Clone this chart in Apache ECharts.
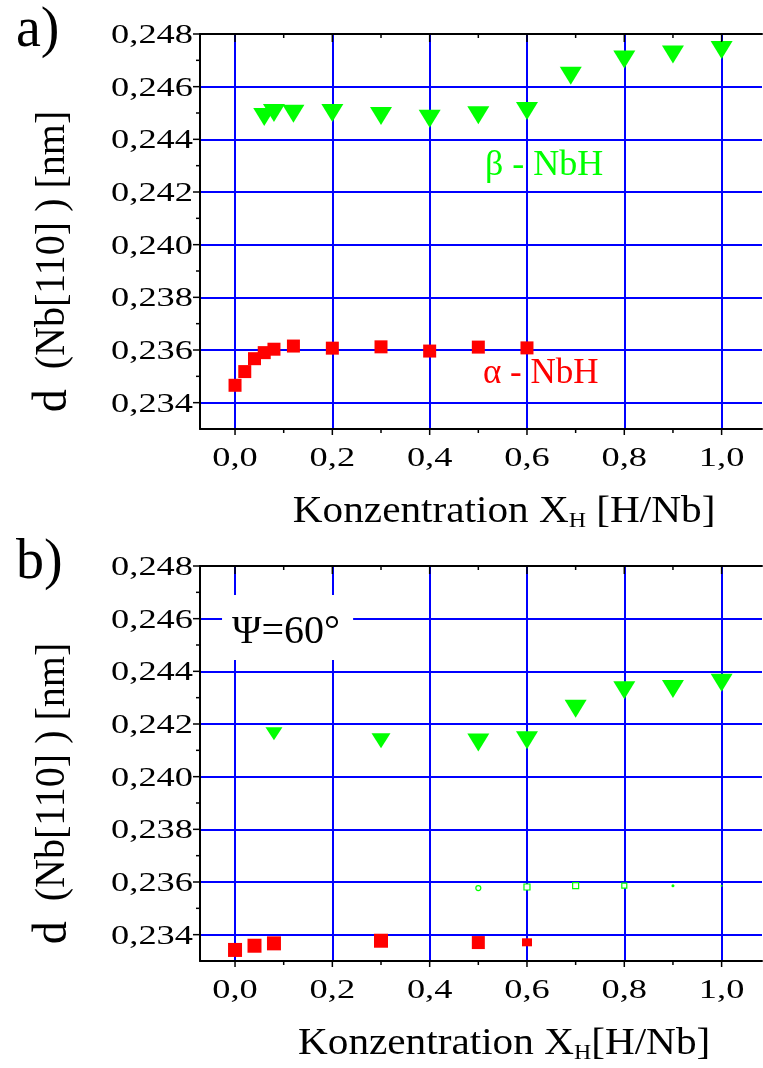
<!DOCTYPE html>
<html>
<head>
<meta charset="utf-8">
<script src="https://cdn.jsdelivr.net/npm/echarts@6/dist/echarts.min.js"></script>
<style>
  html, body { margin: 0; padding: 0; background: #fff; }
  #chart { width: 763px; height: 1068px; }
</style>
</head>
<body>
<div id="chart"></div>
<script>
// Lattice spacing d(Nb[110]) of alpha- and beta-NbH versus hydrogen concentration

// ---- tick values and labels ----
const xTickValues = [0.0, 0.2, 0.4, 0.6, 0.8, 1.0];
const xTickLabels = ['0,0', '0,2', '0,4', '0,6', '0,8', '1,0'];
const xMinorValues = [0.1, 0.3, 0.5, 0.7, 0.9];
const yTickValues = [0.234, 0.236, 0.238, 0.240, 0.242, 0.244, 0.246, 0.248];
const yTickLabels = ['0,234', '0,236', '0,238', '0,240', '0,242', '0,244', '0,246', '0,248'];
const yMinorValues = [0.235, 0.237, 0.239, 0.241, 0.243, 0.245, 0.247];

// ---- panel a) ----
const aBetaX = [0.06, 0.08, 0.12, 0.2, 0.3, 0.4, 0.5, 0.6, 0.69, 0.8, 0.9, 1.0];
const aBetaD = [0.24485, 0.24500, 0.24497, 0.24500, 0.24489, 0.24478, 0.24491, 0.24508, 0.24641, 0.24703, 0.24722, 0.24739];
const aAlphaX = [0.0, 0.02, 0.04, 0.06, 0.08, 0.12, 0.2, 0.3, 0.4, 0.5, 0.6];
const aAlphaD = [0.23466, 0.23518, 0.23567, 0.23590, 0.23603, 0.23615, 0.23607, 0.23612, 0.23596, 0.23611, 0.23608];

// ---- panel b) (Psi = 60 deg) ----
const bBetaX = [0.08, 0.3, 0.5, 0.6, 0.7, 0.8, 0.9, 1.0];
const bBetaD = [0.24163, 0.24136, 0.24130, 0.24138, 0.24258, 0.24328, 0.24333, 0.24357];
const bWeakX = [0.5, 0.6, 0.7, 0.8, 0.9, 1.0];
const bWeakD = [0.23577, 0.23581, 0.23586, 0.23586, 0.23586, 0.23586];
const bAlphaX = [0.0, 0.04, 0.08, 0.3, 0.5, 0.6];
const bAlphaD = [0.23342, 0.23358, 0.23367, 0.23377, 0.23370, 0.23371];

// ---- styling ----
const X_MIN = -0.072, X_MAX = 1.083, Y_MIN = 0.233, Y_MAX = 0.248;
const BLUE = '#0000ff', GREEN = '#00ff00', RED = '#ff0000', INK = '#000000';
const SERIF = '"Liberation Serif", "Times New Roman", serif';
const zip = (xs, ys) => xs.map((x, i) => [x, ys[i]]);

// marker sizes of panel b: weaker reflections drawn smaller
const bBetaSize = i => (i === 0 ? [17, 13] : i === 1 ? [19, 15] : [22, 18]);
const bAlphaSize = i => (i === 5 ? [10, 8] : i === 4 ? 13 : 14);
const bWeakSize = [5, 6, 6, 5, 3, 2];
const bWeakShape = ['circle', 'rect', 'rect', 'rect', 'circle', 'circle'];
const bWeakHollow = [true, true, true, true, false, false];

function gridLines() {
  return {
    silent: true, z: 1, animation: false, precision: 6,
    symbol: ['none', 'none'],
    label: { show: false },
    emphasis: { disabled: true },
    lineStyle: { color: BLUE, width: 2, type: 'solid', opacity: 1 },
    data: [
      ...xTickValues.map(v => ({ xAxis: v })),
      ...yTickValues.filter(v => v < Y_MAX).map(v => ({ yAxis: v }))
    ]
  };
}

const axisBase = {
  type: 'value', z: 3,
  axisLine: { show: true, onZero: false, lineStyle: { color: INK, width: 2 } },
  axisTick: { show: false },
  axisLabel: { show: false },
  splitLine: { show: false }
};

const xAxes = [], yAxes = [];
[0, 1].forEach(g => {
  xAxes.push(Object.assign({}, axisBase, { gridIndex: g, min: X_MIN, max: X_MAX, position: 'bottom' }));
  xAxes.push(Object.assign({}, axisBase, { gridIndex: g, min: X_MIN, max: X_MAX, position: 'top' }));
  yAxes.push(Object.assign({}, axisBase, { gridIndex: g, min: Y_MIN, max: Y_MAX, position: 'left' }));
});

const solid = color => ({ color, opacity: 1 });

const option = {
  animation: false,
  backgroundColor: '#ffffff',
  grid: [
    { left: 200, top: 34, width: 562, height: 395 },
    { left: 200, top: 566, width: 562, height: 395 }
  ],
  xAxis: xAxes,
  yAxis: yAxes,
  series: [
    {
      name: 'alpha-NbH a', type: 'scatter', xAxisIndex: 0, yAxisIndex: 0,
      data: zip(aAlphaX, aAlphaD), symbol: 'rect', symbolSize: 13,
      itemStyle: solid(RED), z: 3, markLine: gridLines()
    },
    {
      name: 'beta-NbH a', type: 'scatter', xAxisIndex: 0, yAxisIndex: 0,
      data: zip(aBetaX, aBetaD), symbol: 'triangle', symbolRotate: 180, symbolSize: [22, 18],
      itemStyle: solid(GREEN), z: 3
    },
    {
      name: 'alpha-NbH b', type: 'scatter', xAxisIndex: 2, yAxisIndex: 1,
      data: zip(bAlphaX, bAlphaD), symbol: 'rect',
      symbolSize: (v, p) => bAlphaSize(p.dataIndex),
      itemStyle: solid(RED), z: 3, markLine: gridLines()
    },
    {
      name: 'beta-NbH b', type: 'scatter', xAxisIndex: 2, yAxisIndex: 1,
      data: zip(bBetaX, bBetaD), symbol: 'triangle', symbolRotate: 180,
      symbolSize: (v, p) => bBetaSize(p.dataIndex),
      itemStyle: solid(GREEN), z: 3
    },
    {
      name: 'weak b', type: 'scatter', xAxisIndex: 2, yAxisIndex: 1,
      data: zip(bWeakX, bWeakD).map((d, i) => ({
        value: d,
        symbol: bWeakShape[i],
        symbolSize: bWeakSize[i],
        itemStyle: bWeakHollow[i]
          ? { color: '#ffffff', borderColor: GREEN, borderWidth: 1.2, opacity: 1 }
          : solid(GREEN)
      })),
      z: 3
    }
  ]
};

const chart = echarts.init(document.getElementById('chart'), null, { renderer: 'canvas' });
chart.setOption(option);

// ---- ticks, tick labels, titles and annotations ----
const toPx = (g, x, y) => chart.convertToPixel({ gridIndex: g }, [x, y]);

function tick(x1, y1, x2, y2) {
  return { type: 'line', silent: true, z: 10,
    shape: { x1, y1, x2, y2 }, style: { stroke: INK, lineWidth: 1.5 } };
}
function label(text, x, y, align, opts) {
  const o = opts || {};
  return {
    type: 'text', silent: true, z: o.z || 10,
    x, y, scaleX: o.scaleX || 1, scaleY: o.scaleY || 1, rotation: o.rotation || 0,
    style: Object.assign({
      legacy: false,
      text, font: (o.size || 28) + 'px ' + SERIF, fill: o.color || INK,
      align, verticalAlign: o.vAlign || 'middle'
    }, o.extra || {})
  };
}

const els = [];
[0, 1].forEach(g => {
  const [left, bottom] = toPx(g, X_MIN, Y_MIN);
  const top = toPx(g, X_MAX, Y_MAX)[1];

  yTickValues.forEach((v, i) => {
    const y = toPx(g, X_MIN, v)[1];
    els.push(tick(left - 7, y, left, y));
    els.push(label(yTickLabels[i], left - 7, y + 1.5, 'right', { scaleX: 1.3 }));
  });
  yMinorValues.forEach(v => {
    const y = toPx(g, X_MIN, v)[1];
    els.push(tick(left - 4, y, left, y));
  });
  xTickValues.forEach((v, i) => {
    const x = toPx(g, v, Y_MIN)[0];
    els.push(tick(x, bottom, x, bottom + 6));
    els.push(tick(x, top, x, top + 8));
    els.push(label(xTickLabels[i], x, bottom + 29.5, 'center', { scaleX: 1.3 }));
  });
  xMinorValues.forEach(v => {
    const x = toPx(g, v, Y_MIN)[0];
    els.push(tick(x, bottom, x, bottom + 4));
    els.push(tick(x, top, x, top + 4));
  });

  // axis titles
  const midX = toPx(g, 0.553, Y_MIN)[0];
  const xTitle = g === 0
    ? '{m|Konzentration X}{s|H}{m| [H/Nb]}'
    : '{m|Konzentration X}{s|H}{m|[H/Nb]}';
  els.push(label(xTitle, midX, bottom + 83, 'center', {
    scaleX: 1.085,
    extra: {
      rich: {
        m: { font: '38px ' + SERIF, lineHeight: 40, fill: INK },
        s: { font: '22px ' + SERIF, lineHeight: 13, verticalAlign: 'bottom', fill: INK }
      }
    }
  }));
  els.push(label('{d|d}{r|  (Nb[110] ) [nm]}', 53, (top + bottom) / 2 + 30, 'center', {
    rotation: Math.PI / 2, scaleY: 1.05,
    extra: {
      rich: {
        d: { font: '46px ' + SERIF, fill: INK },
        r: { font: '40px ' + SERIF, fill: INK }
      }
    }
  }));
  // panel letter
  els.push(label(g === 0 ? 'a)' : 'b)', 16, top - 3, 'left', { size: 56 }));
});

// phase labels in panel a
const betaPos = toPx(0, 0.5137, 0.24299);
els.push(label('\u03b2 - NbH', betaPos[0], betaPos[1], 'left', { size: 36, color: GREEN }));
const alphaPos = toPx(0, 0.5096, 0.23508);
els.push(label('\u03b1 - NbH', alphaPos[0], alphaPos[1], 'left', { size: 35, color: RED }));

// tilt angle in panel b, on a white box that interrupts the grid
const psiPos = toPx(1, -0.0267, 0.2469);
els.push(label('\u03a8=60\u00b0', psiPos[0], psiPos[1], 'left', {
  size: 40, vAlign: 'top', z: 12,
  extra: { lineHeight: 40, backgroundColor: '#ffffff', padding: [18, 13, 7, 10] }
}));

chart.setOption({ graphic: { elements: els } });
</script>
</body>
</html>
